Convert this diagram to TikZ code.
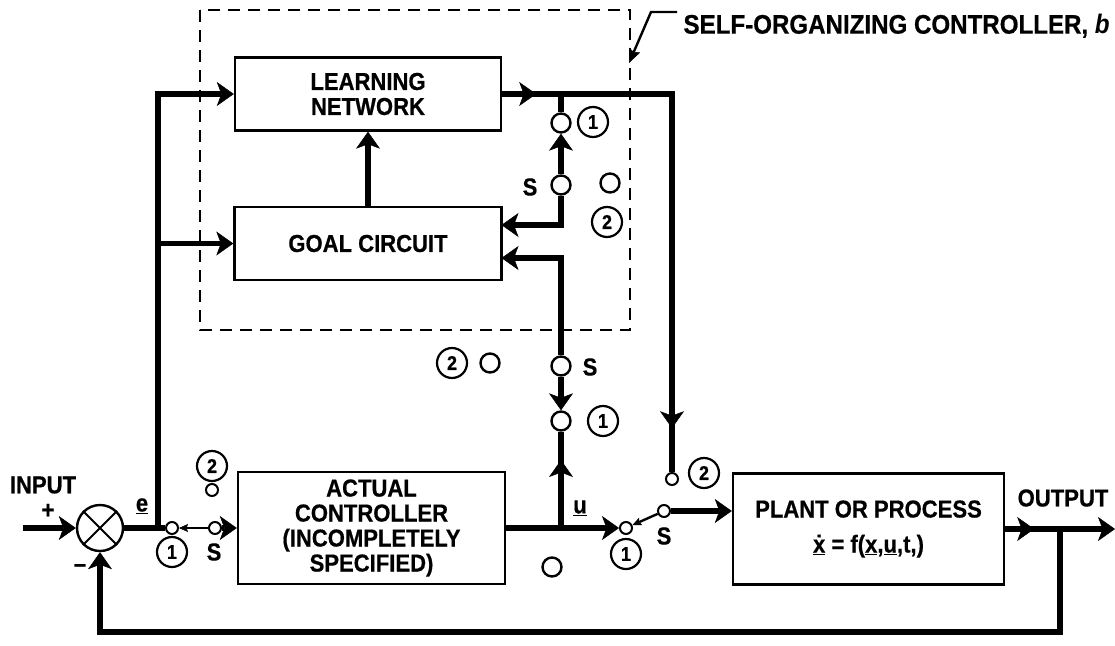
\documentclass[tikz,border=0pt]{standalone}
\usepackage{fontspec}
\setmainfont{Liberation Sans}[FakeStretch=0.9, BoldFeatures={FakeBold=0.6}]
\usetikzlibrary{arrows.meta,decorations.markings,calc}
\newcommand{\lblfont}{\bfseries\fontsize{24.5}{25}\selectfont}
\tikzset{
  bigtip/.tip={Stealth[length=17pt,width=24pt,inset=4.5pt,line width=0.5pt]},
  smalltip/.tip={Stealth[length=9pt,width=8pt,inset=1.5pt,line width=0.5pt]},
  sig/.style={line width=5.2pt},
  thinsig/.style={line width=2.4pt},
  blk/.style={draw, line width=2.4pt, align=center, inner sep=0pt},
  cnum/.style={circle, draw, line width=2.2pt, minimum size=30pt, inner sep=0pt, font=\bfseries\fontsize{20}{20}\selectfont},
  contact/.style={circle, draw, line width=2.4pt, fill=white, minimum size=19pt, inner sep=0pt},
  sc/.style={circle, draw, line width=2pt, fill=white, minimum size=12pt, inner sep=0pt},
  midarr/.style={postaction={decorate, decoration={markings, mark=at position #1 with {\arrow{bigtip}}}}},
  every node/.style={font=\lblfont}
}
\begin{document}
\begin{tikzpicture}[x=1pt,y=-1pt]
\useasboundingbox (0,0) rectangle (1115,645);

% dashed self-organizing controller boundary
\draw[line width=2.6pt, dash pattern=on 12pt off 8pt] (200,10) rectangle (630,330);

% blocks
\node[blk, minimum width=266pt, minimum height=73pt] (ln) at (368,94) {LEARNING\\NETWORK};
\node[blk, minimum width=267pt, minimum height=73pt] (gc) at (368,243.5) {GOAL CIRCUIT};
\node[blk, minimum width=267pt, minimum height=112pt] (ac) at (371.5,528) {ACTUAL\\CONTROLLER\\(INCOMPLETELY\\SPECIFIED)};
\node[blk, minimum width=271pt, minimum height=111pt] (pl) at (868.5,529) {PLANT OR PROCESS\\[10pt]\underline{\.{x}} = f(\underline{x},\underline{u},t,)};

% summing junction
\node[circle, draw, line width=2.4pt, minimum size=46pt, inner sep=0pt] (sum) at (100,528) {};
\draw[line width=2pt] (sum.north west) -- (sum.south east) (sum.north east) -- (sum.south west);

% coordinates
\coordinate (in) at (23,528);
\coordinate (ej) at (158,528);
\coordinate (lt) at (158,94);
\coordinate (jtop) at (561,94);
\coordinate (rc) at (672,94);
\coordinate (uj) at (561,528);
\coordinate (gin1) at (501.5,225);
\coordinate (gin2) at (501.5,258);
\coordinate (fb) at (1060,529);
\coordinate (fbr) at (1060,632);
\coordinate (fbl) at (100,632);
\coordinate (outend) at (1115,529);

% switch contacts
\node[sc] (e1) at (172,528) {};
\node[sc] (eS) at (215,528) {};
\node[sc] (e2) at (212,490) {};
\node[contact] (t1) at (561,123) {};
\node[contact] (tS) at (561,185) {};
\node[contact] (t2) at (610,183) {};
\node[contact] (mS) at (561,366) {};
\node[contact] (m1) at (561,421) {};
\node[contact] (m2) at (490,363) {};
\node[contact] (m3) at (552,567) {};
\node[sc] (b1) at (626,528) {};
\node[sc] (bS) at (664,511) {};
\node[sc] (c2b) at (672,479) {};

% labels
\node (inlab) at (43,485) {INPUT};
\node (plus) at (48,511) {+};
\node (minus) at (80,568) {–};
\node (elab) at (142,506) {\underline{e}};
\node (ulab) at (580,508) {\underline{u}};
\node (outlab) at (1063,498) {OUTPUT};
\node (s1) at (530,187) {S};
\node (s2) at (590,367) {S};
\node (s3) at (214,552) {S};
\node (s4) at (664,536) {S};
\node[cnum] (n1a) at (593,122) {1};
\node[cnum] (n2a) at (607,222) {2};
\node[cnum] (n2b) at (452,363) {2};
\node[cnum] (n1b) at (603,421) {1};
\node[cnum] (n2c) at (212,466) {2};
\node[cnum] (n1c) at (172,552) {1};
\node[cnum] (n2d) at (704,473) {2};
\node[cnum] (n1d) at (626,554) {1};
\node[anchor=west, font=\bfseries\fontsize{26.8}{27}\selectfont] (solab) at (680,26) {SELF-ORGANIZING CONTROLLER, \textit{b}};

% leader to dashed boundary
\coordinate (ld0) at (677,12);
\coordinate (ld1) at (651,12);
\coordinate (ldt) at (629,63);
\draw[line width=2.4pt, -{Stealth[length=14pt,width=12pt,inset=2pt,line width=0.5pt]}] (ld0) -- (ld1) -- (ldt);

% signal lines
\draw[sig, -bigtip] (in) -- (sum.west);
\draw[sig] (sum.east) -- (e1);
\draw[sig, -bigtip] (ej) -- (lt) -- (ln.west);
\draw[sig, -bigtip] (ej |- gc.west) -- (gc.west);
\draw[sig, -bigtip] (gc.north) -- (ln.south);
\draw[thinsig, -smalltip] (eS) -- (e1);
\draw[sig, -bigtip] (eS) -- (ac.west);

\draw[sig, midarr=34pt, midarr=504pt] (ln.east) -- (rc) -- (c2b);
\draw[sig] (jtop) -- (t1);
\draw[sig, -bigtip] (tS) -- (t1);
\draw[sig, -bigtip] (tS) |- (gin1);

\draw[sig, -bigtip] (ac.east) -- (b1);
\draw[sig, midarr=68pt] (uj) -- (m1);
\draw[sig, -bigtip] (mS) -- (m1);
\draw[sig, -bigtip] (mS) |- (gin2);

\draw[thinsig, -smalltip] (bS) -- (b1);
\draw[sig, -bigtip] (bS) -- (bS -| pl.west);

\draw[sig, midarr=29pt, -bigtip] (pl.east) -- (outend);
\draw[sig, -bigtip] (fb) -- (fbr) -- (fbl) -- (sum.south);
\end{tikzpicture}
\end{document}
